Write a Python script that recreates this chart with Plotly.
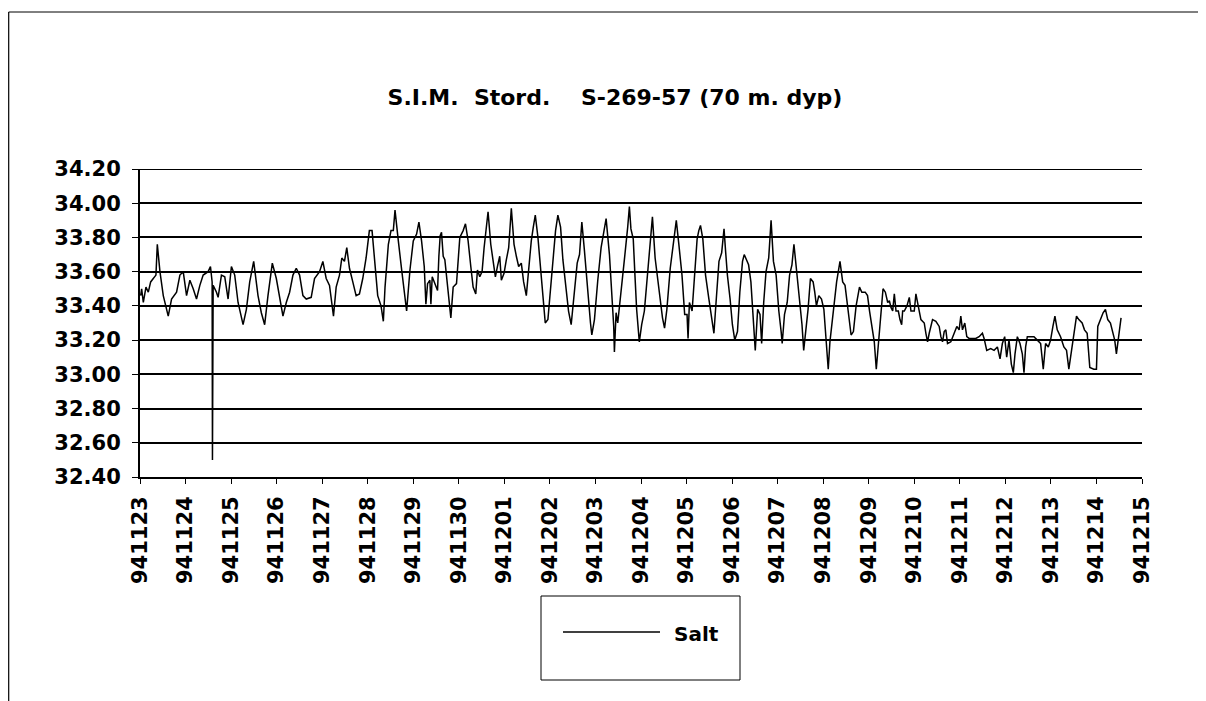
import plotly.graph_objects as go

# Day offset from 941123 and salinity readings
days = [0.015, 0.036, 0.073, 0.131, 0.182, 0.234, 0.292, 0.350, 0.380, 0.438, 0.511, 0.569, 0.620, 0.693, 0.803,
        0.876, 0.949, 1.022, 1.095, 1.168, 1.241, 1.314, 1.387, 1.496, 1.547, 1.584, 1.591, 1.606, 1.679, 1.715,
        1.788, 1.861, 1.934, 2.007, 2.080, 2.153, 2.263, 2.336, 2.409, 2.496, 2.591, 2.664, 2.737, 2.810, 2.905,
        2.993, 3.066, 3.139, 3.212, 3.285, 3.358, 3.431, 3.504, 3.577, 3.650, 3.759, 3.832, 3.942, 4.015, 4.088,
        4.161, 4.248, 4.307, 4.380, 4.431, 4.489, 4.540, 4.599, 4.672, 4.745, 4.818, 4.891, 4.964, 5.036, 5.095,
        5.146, 5.219, 5.292, 5.343,
        5.380, 5.453, 5.511, 5.562, 5.599, 5.635, 5.672, 5.745, 5.803, 5.854, 5.927, 6.000, 6.073, 6.124, 6.182,
        6.241, 6.277, 6.314, 6.365, 6.387, 6.416, 6.474, 6.533, 6.562, 6.591, 6.620, 6.657, 6.693, 6.730, 6.781,
        6.825, 6.876, 6.949, 7.022, 7.095, 7.146, 7.204, 7.263, 7.314, 7.372, 7.409, 7.460, 7.511, 7.555, 7.606,
        7.642, 7.701, 7.752, 7.803, 7.847, 7.898, 7.934, 7.993, 8.044, 8.095, 8.153, 8.212, 8.263, 8.314, 8.372,
        8.423, 8.482, 8.533, 8.591, 8.635, 8.679, 8.737, 8.788, 8.847, 8.898, 8.956, 9.007, 9.066, 9.124, 9.175,
        9.234, 9.285, 9.358, 9.409, 9.467, 9.540, 9.599, 9.650, 9.701, 9.759, 9.832, 9.891, 9.920, 9.978, 10.051,
        10.124, 10.175, 10.234, 10.307, 10.365, 10.401, 10.416, 10.453, 10.489, 10.562, 10.635, 10.708, 10.745,
        10.779, 10.830, 10.867, 10.904, 10.963, 11.015, 11.074, 11.125, 11.185, 11.251, 11.310, 11.369, 11.421,
        11.472, 11.517, 11.568, 11.642, 11.716, 11.775, 11.827, 11.900, 11.959, 12.011, 12.033, 12.063, 12.122,
        12.181, 12.232, 12.269, 12.306, 12.358, 12.417, 12.491, 12.550, 12.601, 12.653, 12.712, 12.771, 12.823,
        12.860, 12.897, 12.956, 13.007, 13.059, 13.118, 13.170, 13.229, 13.266, 13.303, 13.362, 13.413, 13.465,
        13.509, 13.561, 13.613, 13.649, 13.694, 13.745, 13.804, 13.856, 13.908, 13.967, 14.026, 14.077, 14.100,
        14.151, 14.210, 14.262, 14.314, 14.358, 14.410, 14.483, 14.535, 14.572, 14.616, 14.668, 14.720, 14.779,
        14.815, 14.852, 14.904, 14.963, 15.015, 15.059, 15.111, 15.148, 15.221, 15.295, 15.369, 15.428, 15.480,
        15.517, 15.568, 15.613, 15.664, 15.723, 15.797, 15.849, 15.923, 15.974, 16.018, 16.070, 16.122, 16.166,
        16.218, 16.269, 16.314, 16.365, 16.417,
        16.453, 16.489, 16.526, 16.562, 16.599, 16.650, 16.686, 16.723, 16.745, 16.781, 16.839, 16.891, 16.927,
        17.000, 17.036, 17.073, 17.109, 17.146, 17.219, 17.255, 17.292, 17.328, 17.365, 17.401, 17.474, 17.547,
        17.584, 17.620, 17.657, 17.693, 17.730, 17.803, 17.876, 17.934, 17.985, 18.022, 18.058, 18.109, 18.153,
        18.204, 18.277, 18.350, 18.423, 18.496, 18.533, 18.591, 18.679, 18.752, 18.825, 18.883, 18.934, 18.985,
        19.029, 19.080, 19.131, 19.175, 19.212, 19.263, 19.321, 19.372, 19.409, 19.445, 19.482, 19.555, 19.628,
        19.701, 19.774, 19.832, 19.883, 19.942, 19.993, 20.044, 20.088, 20.139, 20.212, 20.285, 20.343, 20.394,
        20.445, 20.504, 20.562, 20.613, 20.686, 20.737, 20.796, 20.854, 20.942, 21.000, 21.029, 21.088, 21.146,
        21.197, 21.248, 21.307, 21.358, 21.401, 21.438, 21.467, 21.511, 21.540]

salt = [33.46, 33.50, 33.42, 33.51, 33.48, 33.54, 33.56, 33.58, 33.76, 33.60, 33.46, 33.40, 33.34, 33.44, 33.48,
        33.58, 33.60, 33.46, 33.55, 33.50, 33.44, 33.52, 33.58, 33.60, 33.63, 33.54, 32.50, 33.52, 33.48, 33.45,
        33.58, 33.57, 33.44, 33.63, 33.58, 33.42, 33.29, 33.38, 33.54, 33.66, 33.46, 33.36, 33.29, 33.46, 33.65,
        33.56, 33.46, 33.34, 33.42, 33.48, 33.58, 33.62, 33.58, 33.46, 33.44, 33.45, 33.56, 33.60, 33.66, 33.56,
        33.52, 33.34, 33.51, 33.58, 33.68, 33.66, 33.74, 33.62, 33.54, 33.46, 33.47, 33.56, 33.68, 33.84, 33.84,
        33.66, 33.46, 33.40, 33.31,
        33.51, 33.76, 33.84, 33.84, 33.96, 33.86, 33.78, 33.61, 33.47, 33.37, 33.61, 33.78, 33.82, 33.89, 33.78,
        33.63, 33.41, 33.53, 33.55, 33.41, 33.57, 33.53, 33.49, 33.69, 33.81, 33.83, 33.69, 33.67, 33.57, 33.41,
        33.33, 33.51, 33.53, 33.80, 33.84, 33.88, 33.78, 33.63, 33.51, 33.47, 33.61, 33.57, 33.60, 33.74, 33.86,
        33.95, 33.76, 33.67, 33.57, 33.63, 33.69, 33.55, 33.59, 33.67, 33.74, 33.97, 33.76, 33.69, 33.63, 33.65,
        33.54, 33.46, 33.61, 33.78, 33.86, 33.93, 33.80, 33.63, 33.43, 33.30, 33.32, 33.47, 33.67, 33.84, 33.93,
        33.86, 33.67, 33.47, 33.37, 33.29, 33.47, 33.65, 33.70, 33.89, 33.72, 33.47, 33.30, 33.23, 33.32, 33.55,
        33.74, 33.82, 33.91, 33.70, 33.43, 33.28, 33.13, 33.36, 33.30, 33.47, 33.67, 33.86, 33.98,
        33.85, 33.79, 33.58, 33.38, 33.19, 33.29, 33.37, 33.52, 33.73, 33.92, 33.68, 33.54, 33.44,
        33.33, 33.27, 33.38, 33.62, 33.79, 33.90, 33.77, 33.58, 33.35, 33.35, 33.21, 33.42, 33.37,
        33.58, 33.79, 33.84, 33.87, 33.79, 33.58, 33.44, 33.33, 33.24, 33.44, 33.66, 33.71, 33.85,
        33.71, 33.58, 33.44, 33.29, 33.20, 33.25, 33.48, 33.66, 33.70, 33.68, 33.64, 33.54, 33.35,
        33.14, 33.38, 33.35, 33.18, 33.42, 33.60, 33.68, 33.90, 33.66, 33.58, 33.37, 33.25, 33.18,
        33.35, 33.42, 33.58, 33.64, 33.76, 33.62, 33.42, 33.29, 33.14, 33.25, 33.38, 33.56, 33.54,
        33.48, 33.40, 33.46, 33.44, 33.38, 33.21, 33.03, 33.19, 33.37, 33.54, 33.66, 33.54, 33.52,
        33.44, 33.31, 33.23, 33.25, 33.40, 33.51, 33.48, 33.48, 33.46, 33.37, 33.27, 33.19, 33.03,
        33.21, 33.38, 33.50, 33.48, 33.42,
        33.43, 33.39, 33.37, 33.47, 33.37, 33.37, 33.32, 33.29, 33.37, 33.37, 33.40, 33.45, 33.37,
        33.37, 33.47, 33.41, 33.37, 33.32, 33.30, 33.24, 33.19, 33.24, 33.28, 33.32, 33.31, 33.28,
        33.22, 33.19, 33.25, 33.26, 33.18, 33.19, 33.24, 33.28, 33.26, 33.34, 33.26, 33.30, 33.22,
        33.21, 33.21, 33.21, 33.22, 33.24, 33.21, 33.14, 33.15, 33.14, 33.16, 33.09, 33.18, 33.22,
        33.10, 33.20, 33.06, 33.01, 33.12, 33.22, 33.18, 33.12, 33.01, 33.16, 33.22, 33.22, 33.22,
        33.20, 33.18, 33.03, 33.18, 33.16, 33.20, 33.28, 33.34, 33.26, 33.22, 33.16, 33.14, 33.03,
        33.12, 33.24, 33.34, 33.32, 33.30, 33.26, 33.24, 33.04, 33.03, 33.03, 33.28, 33.32, 33.36,
        33.38, 33.32, 33.30, 33.24, 33.20, 33.12, 33.18, 33.30, 33.33]

tick_labels = ["941123", "941124", "941125", "941126", "941127", "941128", "941129", "941130",
               "941201", "941202", "941203", "941204", "941205", "941206", "941207", "941208",
               "941209", "941210", "941211", "941212", "941213", "941214", "941215"]
y_ticks = [32.40, 32.60, 32.80, 33.00, 33.20, 33.40, 33.60, 33.80, 34.00, 34.20]

title_text = "S.I.M.\u00a0\u00a0Stord.\u00a0\u00a0\u00a0\u00a0S-269-57 (70 m. dyp)"
series_name = "Salt"

FONT = "DejaVu Sans"
OFF = 8  # page body margin offset of the rendered figure

fig = go.Figure()
fig.add_trace(go.Scatter(x=days, y=salt, mode="lines", name=series_name,
                         line=dict(color="black", width=1.5), showlegend=False))

# plot-area geometry in figure pixels (screen position minus page offset)
L, R, T, B = 140 - OFF, 1142 - OFF, 169 - OFF, 477 - OFF
def px(x):  # screen x -> paper x
    return (x - OFF - L) / (R - L)
def py(y):  # screen y -> paper y
    return (B - (y - OFF)) / (B - T)

shapes = [
    # outer chart border (left and top)
    dict(type="line", xref="paper", yref="paper", x0=px(8.7), x1=px(8.7), y0=py(12), y1=py(720),
         line=dict(color="black", width=1.2)),
    dict(type="line", xref="paper", yref="paper", x0=px(8.7), x1=px(1220), y0=py(12), y1=py(12),
         line=dict(color="black", width=1)),
    # legend box
    dict(type="rect", xref="paper", yref="paper", x0=px(541), x1=px(740), y0=py(596), y1=py(680),
         line=dict(color="black", width=1), fillcolor="rgba(0,0,0,0)"),
    dict(type="line", xref="paper", yref="paper", x0=px(563), x1=px(660), y0=py(632), y1=py(632),
         line=dict(color="black", width=1.3)),
    # top gridline at 34.20
    dict(type="line", xref="paper", yref="y", x0=0, x1=1, y0=34.2, y1=34.2,
         line=dict(color="black", width=2)),
]

annotations = [
    dict(xref="paper", yref="paper", x=px(672), y=py(634), text=series_name, showarrow=False,
         xanchor="left", yanchor="middle",
         font=dict(family=FONT, size=20, color="black", weight="bold")),
]

fig.update_layout(
    width=1206, height=701,
    margin=dict(l=L, r=1206 - R, t=T, b=701 - B),
    paper_bgcolor="white", plot_bgcolor="white",
    title=dict(text=title_text, x=(615 - OFF) / 1206, y=1 - (97 - OFF) / 701,
               xanchor="center", yanchor="middle", xref="container", yref="container",
               font=dict(family=FONT, size=22, color="black", weight="bold")),
    shapes=shapes, annotations=annotations,
    showlegend=False,
)

fig.update_xaxes(range=[0, 22], tickmode="array", tickvals=list(range(len(tick_labels))),
                 ticktext=tick_labels, tickangle=-90, showgrid=False, zeroline=False,
                 showline=True, linecolor="black", linewidth=2,
                 ticks="outside", ticklen=5, tickcolor="black", tickwidth=1,
                 ticklabelstandoff=4,
                 tickfont=dict(family=FONT, size=21, color="black", weight="bold"))
fig.update_yaxes(range=[32.4, 34.2], tickmode="array", tickvals=y_ticks,
                 ticktext=[f"{v:.2f}" for v in y_ticks],
                 showgrid=True, gridcolor="black", gridwidth=2, zeroline=False,
                 showline=True, linecolor="black", linewidth=2,
                 ticks="outside", ticklen=6, tickcolor="black", tickwidth=1,
                 ticklabelstandoff=7,
                 tickfont=dict(family=FONT, size=21, color="black", weight="bold"))

fig.write_html("out.html")
